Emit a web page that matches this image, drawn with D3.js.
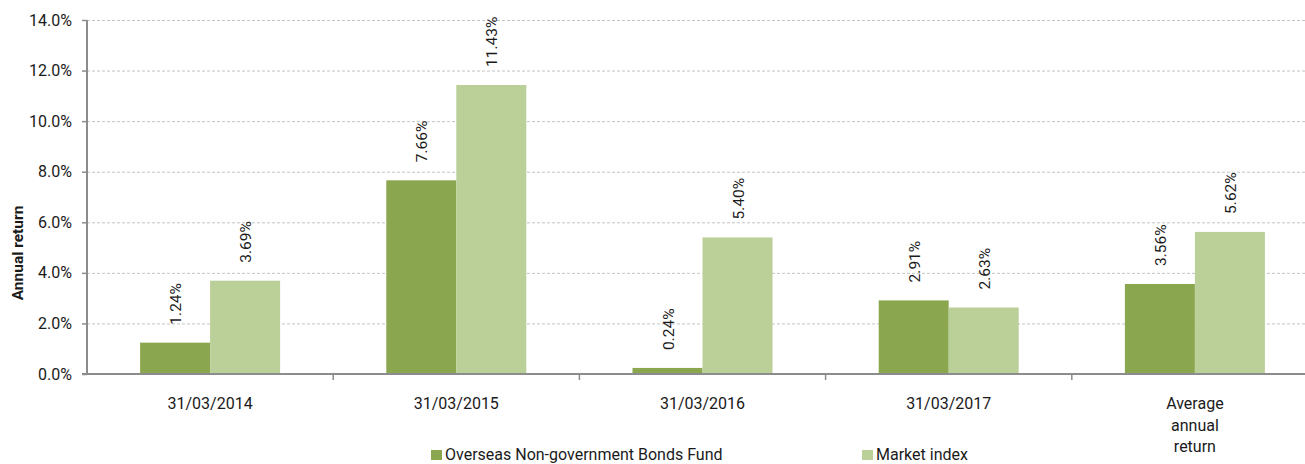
<!DOCTYPE html>
<html>
<head>
<meta charset="utf-8">
<script src="https://cdn.jsdelivr.net/npm/d3@7"></script>
<style>
  html, body { margin: 0; padding: 0; background: #fff; }
  svg { display: block; font-family: Roboto, "Noto Sans", sans-serif; }
</style>
</head>
<body>
<svg id="chart" width="1305" height="464"></svg>
<script>
const categories = ["31/03/2014", "31/03/2015", "31/03/2016", "31/03/2017", "Average annual return"];
const categoryLines = [["31/03/2014"], ["31/03/2015"], ["31/03/2016"], ["31/03/2017"], ["Average", "annual", "return"]];
const seriesNames = ["Overseas Non-government Bonds Fund", "Market index"];
const fundValues = [1.24, 7.66, 0.24, 2.91, 3.56];
const indexValues = [3.69, 11.43, 5.40, 2.63, 5.62];
const yTicks = [0, 2, 4, 6, 8, 10, 12, 14];
const colors = ["#8AA64F", "#BBCF98"];

(function () {
const svg = d3.select("#chart");
const W = 1305, H = 464;
const plotLeft = 87, plotTop = 20, plotBottom = 374, rightEnd = 1318;

const x = d3.scaleBand().domain(categories).range([plotLeft, rightEnd]).paddingInner(0).paddingOuter(0);
const groupW = 140;
const xs = d3.scaleBand().domain(seriesNames).range([0, groupW]);
const y = d3.scaleLinear().domain([0, 14]).range([plotBottom, plotTop]);

// gridlines
svg.append("g").selectAll("line").data(yTicks.filter(d => d > 0)).join("line")
  .attr("x1", plotLeft).attr("x2", W)
  .attr("y1", d => y(d) + 0.5).attr("y2", d => y(d) + 0.5)
  .attr("stroke", "#c4c4c4").attr("stroke-width", 1).attr("stroke-dasharray", "3,2");

// bars
const data = categories.map((c, i) => ({ c, vals: [fundValues[i], indexValues[i]] }));
const groups = svg.append("g").selectAll("g").data(data).join("g")
  .attr("transform", d => `translate(${x(d.c) + (x.bandwidth() - groupW) / 2},0)`);
groups.selectAll("rect").data(d => d.vals.map((v, j) => ({ v, s: seriesNames[j], j }))).join("rect")
  .attr("x", d => xs(d.s)).attr("width", xs.bandwidth())
  .attr("y", d => y(d.v)).attr("height", d => y(0) - y(d.v))
  .attr("fill", d => colors[d.j]);

// value labels
groups.selectAll("text").data(d => d.vals.map((v, j) => ({ v, s: seriesNames[j], j }))).join("text")
  .attr("transform", d => `translate(${xs(d.s) + xs.bandwidth() / 2 + 1},${y(d.v) - 18}) rotate(-90)`)
  .attr("text-anchor", "start").attr("dominant-baseline", "central")
  .attr("font-size", 15.5).attr("fill", "#1a1a1a")
  .text(d => d.v.toFixed(2) + "%");

// y axis
const yAxis = d3.axisLeft(y).tickValues(yTicks).tickFormat(d => d.toFixed(1) + "%").tickSize(5).tickPadding(10);
const gy = svg.append("g").attr("transform", `translate(${plotLeft},0)`).call(yAxis);
gy.select(".domain").attr("stroke", "#8c8c8c").attr("stroke-width", 2).attr("d", `M0,${plotTop}V${plotBottom + 1}`);
gy.selectAll(".tick line").attr("stroke", "#8c8c8c").attr("stroke-width", 1.5);
gy.selectAll(".tick text").attr("font-size", 16).attr("fill", "#1a1a1a").attr("font-family", "Roboto, sans-serif");

// x axis
const gx = svg.append("g").attr("transform", `translate(0,${plotBottom})`);
gx.append("line").attr("x1", plotLeft - 5).attr("x2", W).attr("y1", 0).attr("y2", 0)
  .attr("stroke", "#8c8c8c").attr("stroke-width", 2);
gx.selectAll("line.tk").data(categories.slice(1)).join("line").attr("class", "tk")
  .attr("x1", d => x(d)).attr("x2", d => x(d)).attr("y1", 0).attr("y2", 6)
  .attr("stroke", "#8c8c8c").attr("stroke-width", 1.5);
const labels = gx.selectAll("text.cl").data(categories).join("text").attr("class", "cl")
  .attr("x", d => x(d) + x.bandwidth() / 2).attr("y", 35)
  .attr("text-anchor", "middle").attr("font-size", 16).attr("fill", "#1a1a1a");
labels.each(function(d, i) {
  const t = d3.select(this);
  categoryLines[i].forEach((ln, k) => {
    t.append("tspan").attr("x", x(d) + x.bandwidth() / 2).attr("dy", k === 0 ? 0 : 21.5).text(ln);
  });
});

// y title
svg.append("text").attr("transform", `translate(18,253) rotate(-90)`)
  .attr("text-anchor", "middle").attr("dominant-baseline", "central")
  .attr("font-size", 15.5).attr("font-weight", "bold").attr("fill", "#1a1a1a")
  .text("Annual return");

// legend
const legendX = [431, 862];
const lg = svg.append("g").selectAll("g").data(seriesNames).join("g")
  .attr("transform", (d, i) => `translate(${legendX[i]},0)`);
lg.append("rect").attr("x", 0).attr("y", 450).attr("width", 11).attr("height", 10).attr("fill", (d, i) => colors[i]);
lg.append("text").attr("x", 14).attr("y", 460).attr("font-size", 16).attr("fill", "#1a1a1a").text(d => d);
})();
</script>
</body>
</html>
